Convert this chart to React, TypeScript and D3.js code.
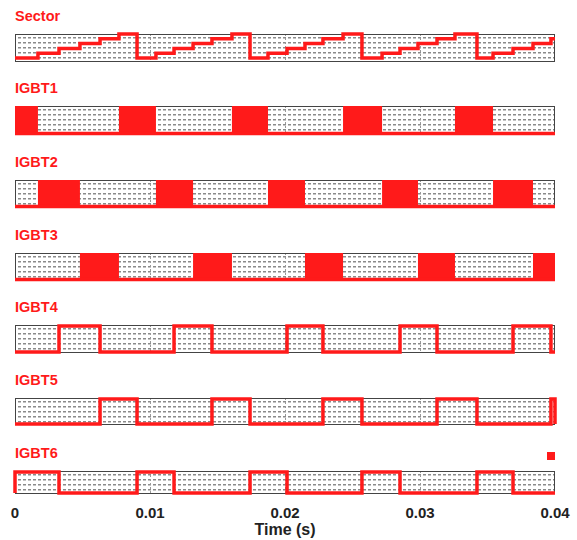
import React from "react";
import * as d3 from "d3";

// ---- data ----
const xTicks = [0, 0.01, 0.02, 0.03, 0.04];
const xTickLabels = ["0", "0.01", "0.02", "0.03", "0.04"];

const sectorTimes = [
  0, 0.0017, 0.00326, 0.00481, 0.0063, 0.0077,
  0.00904, 0.01044, 0.01178, 0.01319, 0.01459, 0.01607,
  0.01741, 0.01874, 0.02015, 0.02148, 0.02281, 0.0243,
  0.0257, 0.02719, 0.02852, 0.02985, 0.03126, 0.03259,
  0.03422, 0.03541, 0.03689, 0.03837, 0.0397,
];
const sectorValues = [
  1, 2, 3, 4, 5, 6,
  1, 2, 3, 4, 5, 6,
  1, 2, 3, 4, 5, 6,
  1, 2, 3, 4, 5, 6,
  1, 2, 3, 4, 5,
];

const igbt1On = [[0, 0.0017], [0.0077, 0.01044], [0.01607, 0.01874], [0.0243, 0.02719], [0.03259, 0.03541]];
const igbt2On = [[0.0017, 0.00481], [0.01044, 0.01319], [0.01874, 0.02148], [0.02719, 0.02985], [0.03541, 0.03837]];
const igbt3On = [[0.00481, 0.0077], [0.01319, 0.01607], [0.02148, 0.0243], [0.02985, 0.03259], [0.03837, 0.04]];
const igbt4On = [[0.00326, 0.0063], [0.01178, 0.01459], [0.02015, 0.02281], [0.02852, 0.03126], [0.03689, 0.0397]];
const igbt5On = [[0.0063, 0.00904], [0.01459, 0.01741], [0.02281, 0.0257], [0.03126, 0.03422], [0.0397, 0.04]];
const igbt6On = [[0, 0.00326], [0.00904, 0.01178], [0.01741, 0.02015], [0.0257, 0.02852], [0.03422, 0.03689]];

const panelNames = ["Sector", "IGBT1", "IGBT2", "IGBT3", "IGBT4", "IGBT5", "IGBT6"];

const RED = "#ff1a1a";
const W = 577;
const H = 540;
const X0 = 15;
const X1 = 555;
const panelTops = [34, 106, 180, 253, 325, 398, 471];
const panelHeights = [28, 28, 27, 27, 28, 27, 23];

const x = d3.scaleLinear().domain([0, 0.04]).range([X0, X1]);

function Grid({ top, h }: { top: number; h: number }) {
  const rows = d3.range(3, h - 2, 5);
  return (
    <g shapeRendering="crispEdges">
      <rect x={X0} y={top} width={X1 - X0} height={h} fill="#fff" />
      {rows.map((r) => (
        <line key={r} x1={X0 + 3} x2={X1 - 1} y1={top + r + 0.5} y2={top + r + 0.5}
          stroke="#8a8a8a" strokeWidth={1} strokeDasharray="3,2" />
      ))}
      {rows.map((r) => (
        <line key={"b" + r} x1={X0 + 3} x2={X1 - 1} y1={top + r + 1.5} y2={top + r + 1.5}
          stroke="#c4c4c4" strokeWidth={1} strokeDasharray="3,2" />
      ))}
      {xTicks.slice(1, -1).map((t) => (
        <line key={t} x1={Math.round(x(t)) + 0.5} x2={Math.round(x(t)) + 0.5} y1={top} y2={top + h}
          stroke="#999" strokeWidth={1} strokeDasharray="2,2" />
      ))}
    </g>
  );
}

function Border({ top, h }: { top: number; h: number }) {
  return <rect x={X0 + 0.5} y={top + 0.5} width={X1 - X0 - 1} height={h - 1}
    fill="none" stroke="#444" strokeWidth={1} shapeRendering="crispEdges" />;
}

function toSteps(on: number[][]) {
  const pts: [number, number][] = [[0, 0]];
  on.forEach(([a, b]) => {
    pts.push([a, 0], [a, 1], [b, 1], [b, 0]);
  });
  pts.push([0.04, 0]);
  return pts;
}

export default function App() {
  const sectorY = d3.scaleLinear().domain([0.17, 6]).range([panelTops[0] + panelHeights[0], panelTops[0]]);
  const sectorPts = sectorTimes.map((t, i) => [t, sectorValues[i]] as [number, number]);
  sectorPts.push([0.04, sectorValues[sectorValues.length - 1]]);
  const sectorPath = d3.line<[number, number]>()
    .x((d) => x(d[0])).y((d) => sectorY(d[1])).curve(d3.curveStepAfter)(sectorPts) || "";

  const igbts = [igbt1On, igbt2On, igbt3On, igbt4On, igbt5On, igbt6On];

  return (
    <svg width={W} height={H} style={{ position: "absolute", left: 0, top: 0, background: "#fff" }}
      fontFamily="'Liberation Sans', Arial, sans-serif">
      {panelNames.map((name, i) => (
        <text key={name} x={X0} y={panelTops[i] - 13} fill={RED} fontSize={14.5} fontWeight="bold">{name}</text>
      ))}

      {/* Sector panel */}
      <Grid top={panelTops[0]} h={panelHeights[0]} />
      <Border top={panelTops[0]} h={panelHeights[0]} />
      <path d={sectorPath} fill="none" stroke={RED} strokeWidth={3.5} strokeLinejoin="miter" />

      {igbts.map((on, k) => {
        const i = k + 1;
        const top = panelTops[i];
        const h = panelHeights[i];
        const y = d3.scaleLinear().domain([0, 1]).range([top + h - 1, top + 1]);
        const pts = toSteps(on);
        const line = d3.line<[number, number]>().x((d) => x(d[0])).y((d) => y(d[1]))(pts) || "";
        const filled = k < 3;
        return (
          <g key={k}>
            <Grid top={top} h={h} />
            <Border top={top} h={h} />
            {filled ? (
              <g>
                {on.map(([a, b], j) => (
                  <rect key={j} x={x(a)} y={top} width={x(b) - x(a)} height={h} fill={RED} />
                ))}
                <line x1={X0} x2={X1} y1={top + h - 0.5} y2={top + h - 0.5} stroke={RED} strokeWidth={3.5} />
              </g>
            ) : (
              <path d={line} fill="none" stroke={RED} strokeWidth={3.5} strokeLinejoin="miter" />
            )}
          </g>
        );
      })}

      <rect x={547} y={452} width={8} height={8} fill={RED} />

      {xTicks.map((t, i) => (
        <text key={t} x={x(t)} y={518} textAnchor="middle" fontSize={15} fontWeight="bold" fill="#222">
          {xTickLabels[i]}
        </text>
      ))}
      <text x={x(0.02)} y={535} textAnchor="middle" fontSize={16} fontWeight="bold" fill="#222">Time (s)</text>
    </svg>
  );
}
